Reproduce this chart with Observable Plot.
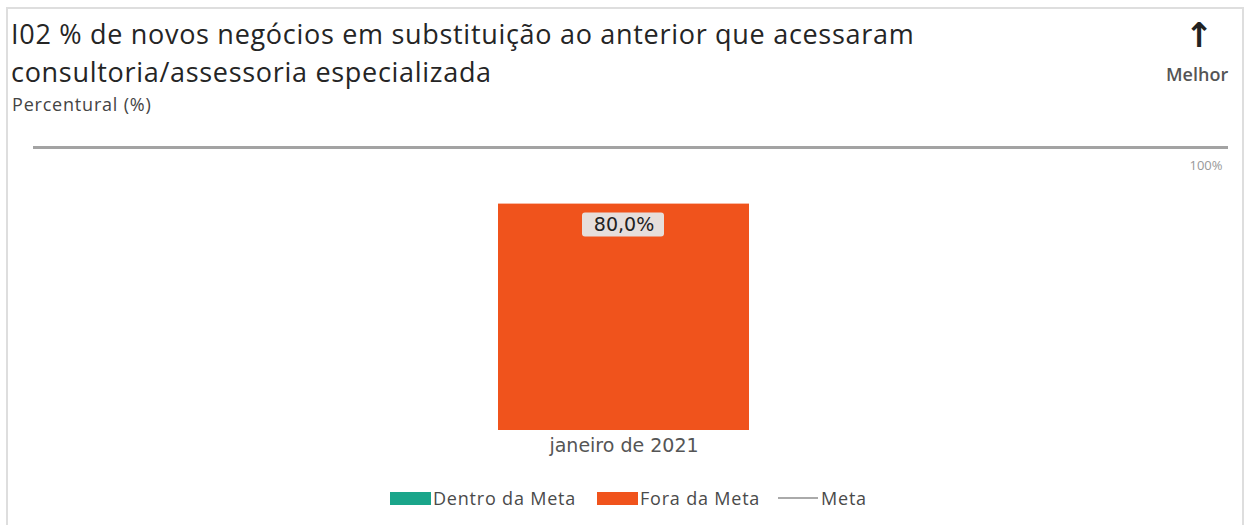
<!DOCTYPE html>
<html>
<head>
<meta charset="utf-8">
<script src="https://cdn.jsdelivr.net/npm/d3@7"></script>
<script src="https://cdn.jsdelivr.net/npm/@observablehq/plot@0.6"></script>
<style>
  body { margin:0; background:#fff; }
  #wrap { position:relative; width:1251px; height:525px; overflow:hidden; font-family:"Open Sans","Noto Sans",sans-serif; }
  #frame { position:absolute; left:6px; top:7px; width:1238px; height:540px; border:2px solid #dedede; box-sizing:border-box; }
  #title { position:absolute; left:11px; top:15px; font-size:27px; letter-spacing:0.7px; line-height:38px; color:#252525; white-space:nowrap; }
  #sub { position:absolute; left:12px; top:92px; font-size:18px; letter-spacing:0.8px; color:#444; }
  #arrow { position:absolute; left:1185px; top:17px; font-size:34px; font-weight:bold; color:#222; line-height:36px; font-family:"DejaVu Sans"; }
  #melhor { position:absolute; left:1166px; top:62px; font-size:18px; font-weight:600; color:#555; }
  #chart { position:absolute; left:0; top:125px; }
  #legend { position:absolute; top:486px; left:0; width:1251px; font-size:18px; letter-spacing:0.8px; color:#4a4a4a; }
  .item { position:absolute; display:flex; align-items:center; }
  .sw { width:41px; height:13px; margin-right:2px; }
  .ln { width:40px; height:2px; background:#aaa; margin-right:3px; }
</style>
</head>
<body>
<div id="wrap">
  <div id="frame"></div>
  <div id="title">I02 % de novos negócios em substituição ao anterior que acessaram<br>consultoria/assessoria especializada</div>
  <div id="sub">Percentural (%)</div>
  <div id="arrow">↑</div>
  <div id="melhor">Melhor</div>
  <div id="chart"></div>
  <div id="legend"></div>
</div>
<script>
const months = ["janeiro de 2021"];
const values = [80.0];
const status = ["Fora da Meta"];
const metaValue = 100;
const legendLabels = ["Dentro da Meta", "Fora da Meta", "Meta"];
const colors = {"Dentro da Meta": "#1aa58a", "Fora da Meta": "#f0531c"};

const data = months.map((m, i) => ({month: m, value: values[i], status: status[i], label: values[i].toFixed(1).replace(".", ",") + "%"}));

const chart = Plot.plot({
  width: 1251,
  height: 340,
  marginLeft: 19,
  marginRight: 23,
  marginTop: 22,
  marginBottom: 35,
  style: {fontFamily: "DejaVu Sans", background: "transparent"},
  x: {domain: months, padding: 0.656, label: null},
  y: {domain: [0, 100], axis: null},
  marks: [
    Plot.ruleY([metaValue], {stroke: "#a3a3a3", strokeWidth: 3, insetLeft: 14}),
    Plot.text([metaValue], {y: d => d, text: d => d + "%", frameAnchor: "right", textAnchor: "end", dx: -6, dy: 18, fill: "#999", fontSize: 13, fontFamily: "Open Sans"}),
    Plot.barY(data, {x: "month", y: "value", fill: d => colors[d.status]}),
    Plot.barY(data, {x: "month", y1: "value", y2: "value", fill: "#e6dedb", insetTop: 9, insetBottom: -33, insetLeft: 84, insetRight: 85, rx: 3}),
    Plot.text(data, {x: "month", y: "value", text: "label", dy: 21, fontSize: 19, fill: "#222"}),
    Plot.axisX({fontSize: 19, tickSize: 0, tickPadding: 8, fill: "#555", label: null})
  ]
});
document.getElementById("chart").appendChild(chart);

const legend = document.getElementById("legend");
const positions = [390, 597, 778];
legendLabels.forEach((l, i) => {
  const it = document.createElement("div");
  it.className = "item";
  it.style.left = positions[i] + "px";
  const s = document.createElement("div");
  if (colors[l]) { s.className = "sw"; s.style.background = colors[l]; }
  else { s.className = "ln"; }
  it.appendChild(s);
  const t = document.createElement("span");
  t.textContent = l;
  it.appendChild(t);
  legend.appendChild(it);
});
</script>
</body>
</html>
